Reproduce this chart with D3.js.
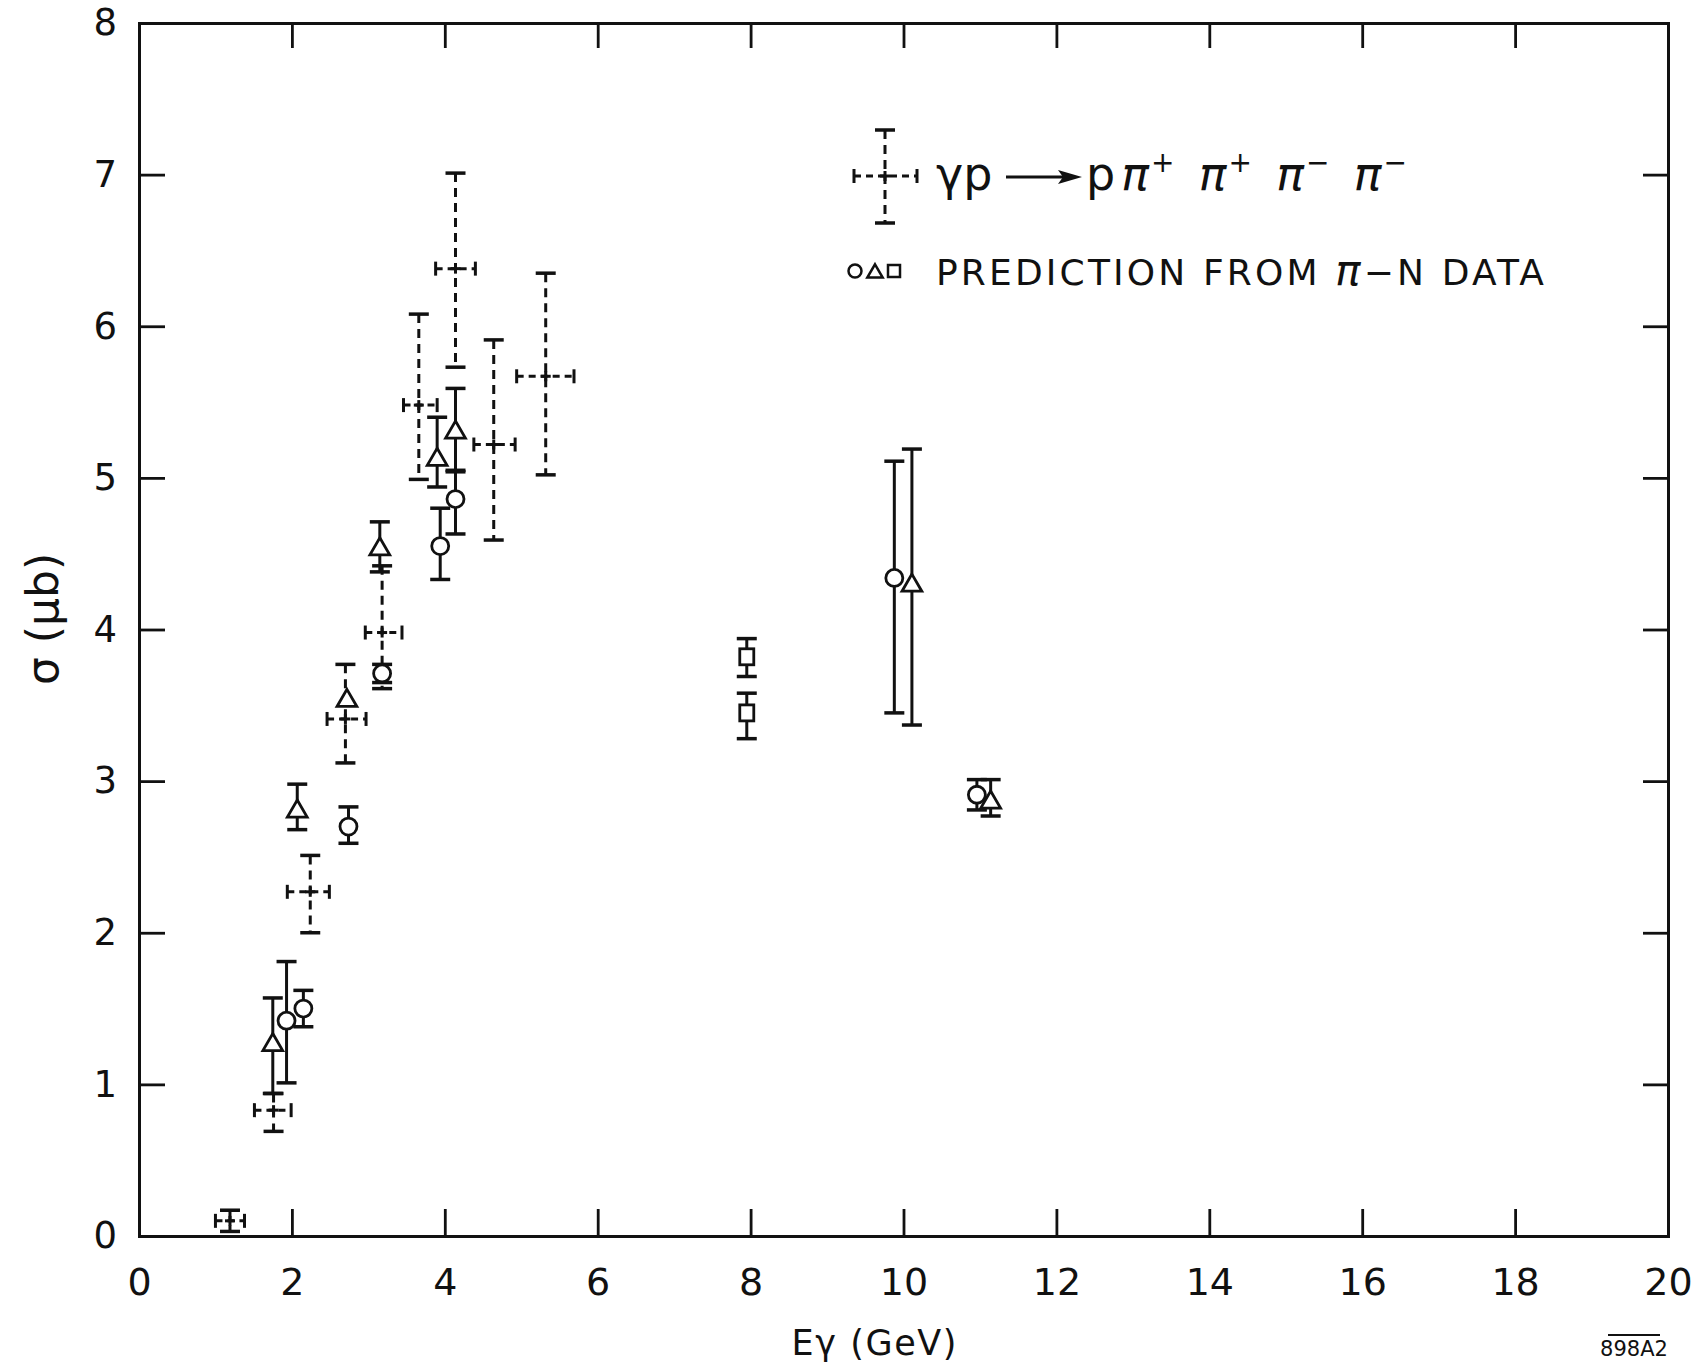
<!DOCTYPE html>
<html>
<head>
<meta charset="utf-8">
<script src="https://cdn.jsdelivr.net/npm/d3@7"></script>
<style>
  body { margin: 0; background: #fff; }
  text { font-family: "DejaVu Sans", sans-serif; fill: #111; }
</style>
</head>
<body>
<div id="chart"></div>
<script>
// γp -> pπ+π+π-π- measurements (dashed crosses)
const dataE     = [1.19, 1.76, 2.24, 2.70, 3.18, 3.66, 4.14, 4.64, 5.32];
const dataELo   = [1.00, 1.51, 1.94, 2.46, 2.96, 3.46, 3.88, 4.38, 4.94];
const dataEHi   = [1.38, 1.99, 2.49, 2.97, 3.44, 3.90, 4.40, 4.92, 5.69];
const dataSig   = [0.10, 0.83, 2.27, 3.41, 3.98, 5.48, 6.38, 5.22, 5.67];
const dataSigLo = [0.03, 0.69, 2.00, 3.12, 3.61, 4.99, 5.73, 4.59, 5.02];
const dataSigHi = [0.17, 0.94, 2.51, 3.77, 4.42, 6.08, 7.01, 5.91, 6.35];

// predictions from π-N data
const circE     = [1.93, 2.15, 2.74, 3.18, 3.94, 4.14, 9.88, 10.96];
const circSig   = [1.42, 1.50, 2.70, 3.71, 4.55, 4.86, 4.34, 2.91];
const circLo    = [1.01, 1.38, 2.59, 3.65, 4.33, 4.63, 3.45, 2.81];
const circHi    = [1.81, 1.62, 2.83, 3.77, 4.80, 5.05, 5.11, 3.01];

const triE      = [1.75, 2.07, 2.72, 3.15, 3.90, 4.14, 10.11, 11.14];
const triSig    = [1.27, 2.81, 3.54, 4.54, 5.13, 5.31, 4.30, 2.87];
const triLo     = [0.94, 2.68, 3.54, 4.38, 4.94, 5.04, 3.37, 2.77];
const triHi     = [1.57, 2.98, 3.54, 4.71, 5.40, 5.59, 5.19, 3.01];

const sqE       = [7.95, 7.95];
const sqSig     = [3.82, 3.45];
const sqLo      = [3.69, 3.28];
const sqHi      = [3.94, 3.58];

const xTicks = [0, 2, 4, 6, 8, 10, 12, 14, 16, 18, 20];
const yTicks = [0, 1, 2, 3, 4, 5, 6, 7, 8];

const W = 1702, H = 1366;
const margin = {left: 139, right: 34, top: 23, bottom: 130};
const ink = "#111";

const svg = d3.select("#chart").append("svg")
    .attr("width", W).attr("height", H)
    .style("background", "#fff");

const x = d3.scaleLinear().domain([0, 20]).range([margin.left, W - margin.right]);
const y = d3.scaleLinear().domain([0, 8]).range([H - margin.bottom, margin.top]);

// axes, ticks pointing inward
const styleAxis = g => {
    g.select(".domain").attr("stroke", ink).attr("stroke-width", 3);
    g.selectAll(".tick line").attr("stroke", ink).attr("stroke-width", 2.8);
    g.selectAll(".tick text").attr("fill", ink).style("font-family", "DejaVu Sans, sans-serif");
};

svg.append("g")
    .attr("transform", `translate(0,${y(0)})`)
    .call(d3.axisBottom(x).tickValues(xTicks).tickSize(-27).tickPadding(32).tickFormat(d3.format("d")))
    .call(styleAxis)
    .call(g => g.selectAll(".tick text").style("font-size", "38px"));

svg.append("g")
    .attr("transform", `translate(${x(0)},0)`)
    .call(d3.axisLeft(y).tickValues(yTicks).tickSize(-26).tickPadding(22).tickFormat(d3.format("d")))
    .call(styleAxis)
    .call(g => g.selectAll(".tick text").style("font-size", "37px"));

svg.append("g")
    .attr("transform", `translate(0,${y(8)})`)
    .call(d3.axisTop(x).tickValues(xTicks.slice(1, -1)).tickSize(-25).tickFormat(""))
    .call(styleAxis);

svg.append("g")
    .attr("transform", `translate(${x(20)},0)`)
    .call(d3.axisRight(y).tickValues(yTicks.slice(1, -1)).tickSize(-25).tickFormat(""))
    .call(styleAxis);

// axis titles
svg.append("text")
    .attr("x", 874).attr("y", 1355)
    .attr("text-anchor", "middle")
    .attr("textLength", 165).attr("lengthAdjust", "spacing")
    .style("font-size", "35px")
    .text("Eγ (GeV)");

svg.append("text")
    .attr("transform", "translate(58,619) rotate(-90)")
    .attr("text-anchor", "middle")
    .style("font-size", "44px")
    .text("σ (μb)");

svg.append("text")
    .attr("x", 1634).attr("y", 1356)
    .attr("text-anchor", "middle")
    .style("font-size", "21px")
    .text("898A2");
svg.append("line")
    .attr("x1", 1608).attr("x2", 1660).attr("y1", 1335).attr("y2", 1335)
    .attr("stroke", ink).attr("stroke-width", 2);

const capW = 20;

// dashed crosses
function dashedCross(g, cx, cy, x1, x2, y1, y2) {
    g.append("line").attr("x1", cx).attr("x2", cx).attr("y1", y1).attr("y2", y2)
        .attr("stroke", ink).attr("stroke-width", 3).attr("stroke-dasharray", "9,6");
    g.append("line").attr("x1", x1).attr("x2", x2).attr("y1", cy).attr("y2", cy)
        .attr("stroke", ink).attr("stroke-width", 3).attr("stroke-dasharray", "7,5");
    // caps
    g.append("line").attr("x1", cx - capW / 2).attr("x2", cx + capW / 2).attr("y1", y1).attr("y2", y1)
        .attr("stroke", ink).attr("stroke-width", 3.5);
    g.append("line").attr("x1", cx - capW / 2).attr("x2", cx + capW / 2).attr("y1", y2).attr("y2", y2)
        .attr("stroke", ink).attr("stroke-width", 3.5);
    g.append("line").attr("x1", x1).attr("x2", x1).attr("y1", cy - 7).attr("y2", cy + 7)
        .attr("stroke", ink).attr("stroke-width", 3);
    g.append("line").attr("x1", x2).attr("x2", x2).attr("y1", cy - 7).attr("y2", cy + 7)
        .attr("stroke", ink).attr("stroke-width", 3);
    // centre mark
    g.append("line").attr("x1", cx - 5).attr("x2", cx + 5).attr("y1", cy).attr("y2", cy)
        .attr("stroke", ink).attr("stroke-width", 3);
    g.append("line").attr("x1", cx).attr("x2", cx).attr("y1", cy - 5).attr("y2", cy + 5)
        .attr("stroke", ink).attr("stroke-width", 3);
}

const crossG = svg.append("g");
dataE.forEach((e, i) => {
    dashedCross(crossG, x(e), y(dataSig[i]), x(dataELo[i]), x(dataEHi[i]), y(dataSigHi[i]), y(dataSigLo[i]));
});

// solid error bars for predictions
function solidBars(e, lo, hi) {
    const g = svg.append("g");
    e.forEach((v, i) => {
        if (hi[i] - lo[i] < 0.01) return;
        g.append("line").attr("x1", x(v)).attr("x2", x(v)).attr("y1", y(hi[i])).attr("y2", y(lo[i]))
            .attr("stroke", ink).attr("stroke-width", 3);
        [hi[i], lo[i]].forEach(b => {
            g.append("line").attr("x1", x(v) - capW / 2).attr("x2", x(v) + capW / 2)
                .attr("y1", y(b)).attr("y2", y(b))
                .attr("stroke", ink).attr("stroke-width", 3.5);
        });
    });
}
solidBars(circE, circLo, circHi);
solidBars(triE, triLo, triHi);
solidBars(sqE, sqLo, sqHi);

const triPath = s => `M0,${-s * 0.55}L${s * 0.55},${s * 0.4}L${-s * 0.55},${s * 0.4}Z`;

svg.append("g").selectAll("circle")
    .data(circE).join("circle")
    .attr("cx", d => x(d)).attr("cy", (d, i) => y(circSig[i]))
    .attr("r", 8.5)
    .attr("fill", "#fff").attr("stroke", ink).attr("stroke-width", 2.8);

svg.append("g").selectAll("path")
    .data(triE).join("path")
    .attr("transform", (d, i) => `translate(${x(d)},${y(triSig[i])})`)
    .attr("d", triPath(18))
    .attr("fill", "#fff").attr("stroke", ink).attr("stroke-width", 2.8);

svg.append("g").selectAll("rect")
    .data(sqE).join("rect")
    .attr("x", d => x(d) - 7).attr("y", (d, i) => y(sqSig[i]) - 8)
    .attr("width", 14).attr("height", 16)
    .attr("fill", "#fff").attr("stroke", ink).attr("stroke-width", 2.8);

// legend
const leg = svg.append("g");
dashedCross(leg, 885, 176, 854, 917, 130, 223);

leg.append("text")
    .attr("x", 936).attr("y", 190)
    .style("font-size", "46px")
    .text("γp");

leg.append("line")
    .attr("x1", 1006).attr("x2", 1068).attr("y1", 177).attr("y2", 177)
    .attr("stroke", ink).attr("stroke-width", 3);
leg.append("path")
    .attr("d", "M1058,170L1082,177L1058,184L1063,177Z")
    .attr("fill", ink);

const react = leg.append("text")
    .attr("x", 1086).attr("y", 190)
    .style("font-size", "46px");
react.append("tspan").text("p");
[["π", "+"], ["π", "+"], ["π", "−"], ["π", "−"]].forEach(([p, c], i) => {
    react.append("tspan").style("font-style", "italic")
        .attr("dx", 6).attr("dy", i === 0 ? 0 : 18).text(p);
    react.append("tspan").attr("dx", 2).attr("dy", -18).style("font-size", "28px").text(c);
    react.append("tspan").text("\u2009\u2009");
});

leg.append("circle").attr("cx", 855).attr("cy", 271).attr("r", 6.5)
    .attr("fill", "#fff").attr("stroke", ink).attr("stroke-width", 2.5);
leg.append("path").attr("transform", "translate(875,272)").attr("d", triPath(14))
    .attr("fill", "#fff").attr("stroke", ink).attr("stroke-width", 2.5);
leg.append("rect").attr("x", 888).attr("y", 265).attr("width", 12).attr("height", 12)
    .attr("fill", "#fff").attr("stroke", ink).attr("stroke-width", 2.5);

const pred = leg.append("text")
    .attr("x", 936).attr("y", 285)
    .attr("textLength", 608).attr("lengthAdjust", "spacing")
    .style("font-size", "36px");
pred.append("tspan").text("PREDICTION  FROM  ");
pred.append("tspan").style("font-style", "italic").style("font-size", "42px").text("π");
pred.append("tspan").text("−N  DATA");
</script>
</body>
</html>
